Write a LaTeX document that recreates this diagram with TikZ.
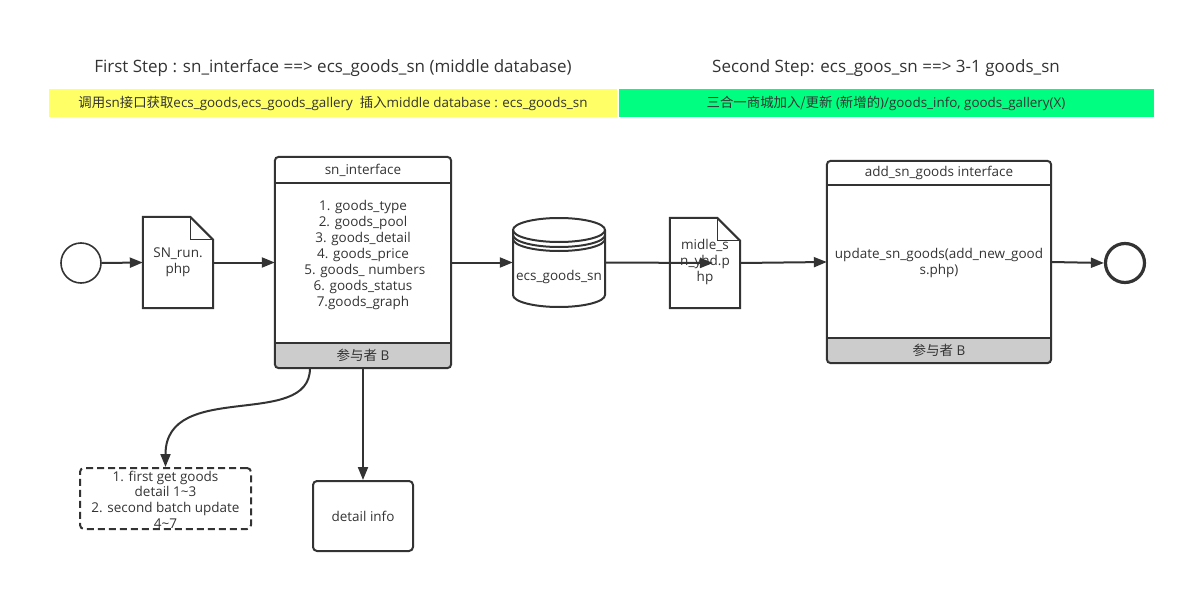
\documentclass[tikz,border=0pt]{standalone}
\usepackage{fontspec}
\setmainfont{Open Sans}
\newfontfamily\cjk{Noto Sans CJK SC}
\usetikzlibrary{arrows.meta}
\definecolor{ink}{HTML}{333333}
\definecolor{barY}{HTML}{FFFF66}
\definecolor{barG}{HTML}{00FF80}
\definecolor{foot}{HTML}{CCCCCC}
\begin{document}
\begin{tikzpicture}[x=1pt,y=-1pt,
  every node/.style={text=ink, font=\fontsize{13.5}{16}\selectfont, inner sep=0pt},
  title/.style={font=\fontsize{17}{20}\selectfont},
  bartext/.style={font=\fontsize{13.4}{16}\selectfont},
  conn/.style={draw=ink, line width=2pt, -{Triangle[length=13pt,width=10pt]}},
  outline/.style={draw=ink, line width=2pt},
  boxshape/.style={rectangle, outline, rounded corners=4pt},
  plain/.style={rectangle},
  event/.style={circle, draw=ink, line width=1.6pt, minimum size=40pt},
  endevent/.style={circle, draw=ink, line width=3.2pt, minimum size=39pt},
  fold/.style={draw=ink, line width=1pt},
  lst/.style={align=center}
]
\useasboundingbox (0,0) rectangle (1187,605);

% titles and bars
\node[title] (t1) at (333,68) {First Step : sn\_interface ==> ecs\_goods\_sn (middle database)};
\node[title] (t2) at (886,68) {Second Step: ecs\_goos\_sn ==> 3-1 goods\_sn};
\fill[barY] (49,89) rectangle (617,117);
\fill[barG] (619,89) rectangle (1154,117);
\node[bartext] (b1) at (333,103) {{\cjk 调用}sn{\cjk 接口获取}ecs\_goods,ecs\_goods\_gallery\ \ {\cjk 插入}middle database : ecs\_goods\_sn};
\node[bartext] (b2) at (886,103) {{\cjk 三合一商城加入/更新} ({\cjk 新增的})/goods\_info, goods\_gallery(X)};

% start event
\node[event] (start) at (81,263) {};

% document SN_run.php
\node[plain, minimum width=70pt, minimum height=91pt] (doc1) at (178,262.5) {};
\draw[outline, line join=miter] (doc1.north west) -- ([xshift=-23pt]doc1.north east) -- ([yshift=-23pt]doc1.north east) -- (doc1.south east) -- (doc1.south west) -- cycle;
\draw[fold] ([xshift=-23pt]doc1.north east) -- ([xshift=-23pt,yshift=-23pt]doc1.north east) -- ([yshift=-23pt]doc1.north east);
\node[lst] (doc1t) at (178,262) {SN\_run.\\php};

% sn_interface swimlane
\node[plain, minimum width=176pt, minimum height=211pt] (sni) at (363,262.5) {};
\fill[foot, rounded corners=4pt] (275,343) rectangle (451,368);
\fill[foot] (275,343) rectangle (451,355);
\draw[boxshape] (sni.south west) rectangle (sni.north east);
\draw[outline] (275,183) -- (451,183);
\draw[outline] (275,343) -- (451,343);
\node (snit) at (363,170) {sn\_interface};
\node[lst] (snil) at (363,255) {1. goods\_type\\2. goods\_pool\\3. goods\_detail\\4. goods\_price\\\ 5. goods\_ numbers\\6. goods\_status\\7.goods\_graph};
\node (snif) at (363,355.5) {{\cjk 参与者} B};

% database cylinder
\node[plain, minimum width=92pt, minimum height=89pt] (db) at (559,262.5) {};
\draw[outline, fill=white] (513,230) -- (513,295) arc[start angle=180, end angle=360, x radius=46, y radius=-12] -- (605,230);
\draw[outline] (559,230) ellipse[x radius=46, y radius=12];
\draw[outline] (513,235) arc[start angle=180, end angle=360, x radius=46, y radius=-12];
\draw[outline] (513,239) arc[start angle=180, end angle=360, x radius=46, y radius=-12];
\node (dbt) at (559,277) {ecs\_goods\_sn};

% document midle_sn_yhd.php
\node[plain, minimum width=70pt, minimum height=90pt] (doc2) at (705,263) {};
\draw[outline, line join=miter] (doc2.north west) -- ([xshift=-23pt]doc2.north east) -- ([yshift=-23pt]doc2.north east) -- (doc2.south east) -- (doc2.south west) -- cycle;
\draw[fold] ([xshift=-23pt]doc2.north east) -- ([xshift=-23pt,yshift=-23pt]doc2.north east) -- ([yshift=-23pt]doc2.north east);
\node[lst] (doc2t) at (705,262) {midle\_s\\n\_yhd.p\\hp};

% add_sn_goods swimlane
\node[plain, minimum width=224pt, minimum height=202pt] (add) at (939,262) {};
\fill[foot, rounded corners=4pt] (827,338) rectangle (1051,363);
\fill[foot] (827,338) rectangle (1051,350);
\draw[boxshape] (add.south west) rectangle (add.north east);
\draw[outline] (827,185) -- (1051,185);
\draw[outline] (827,338) -- (1051,338);
\node (addt) at (939,173) {add\_sn\_goods interface};
\node[lst] (addb) at (939,263) {update\_sn\_goods(add\_new\_good\\s.php)};
\node (addf) at (939,350.5) {{\cjk 参与者} B};

% end event
\node[endevent] (end) at (1125,263) {};

% lower boxes
\node[rectangle, draw=ink, line width=2pt, dashed, dash pattern=on 7pt off 4pt, rounded corners=4pt, minimum width=171pt, minimum height=61pt] (dash) at (165.5,498.5) {};
\node[lst, font=\fontsize{13.5}{15.6}\selectfont] (dasht) at (165.5,499.5) {1. first get goods\\detail 1\textasciitilde3\\2. second batch update\\4\textasciitilde7};
\node[boxshape, minimum width=100pt, minimum height=70pt] (detail) at (363,516) {detail info};

% connectors
\draw[conn] (start.east) -- (doc1.west);
\draw[conn] (doc1.east) -- (sni.west);
\draw[conn] (sni.east) -- (db.west);
\draw[conn] (db.east) -- ([xshift=8pt]doc2.center);
\draw[conn] (doc2.east) -- (add.west);
\draw[conn] (add.east) -- (end.west);
\draw[conn] ([xshift=-53pt]sni.south) .. controls ([xshift=-53pt,yshift=-62pt]sni.south) and ([yshift=88pt]dash.north) .. (dash.north);
\draw[conn] (sni.south) -- (detail.north);
\end{tikzpicture}
\end{document}
